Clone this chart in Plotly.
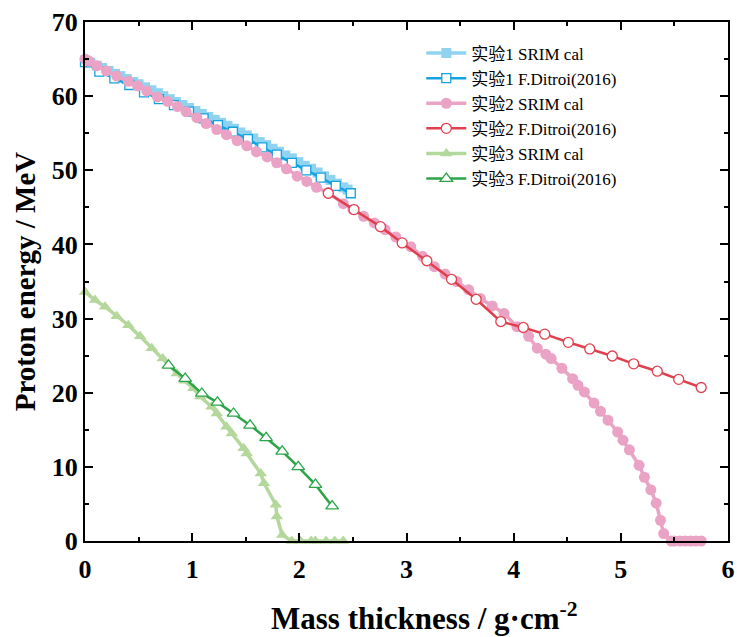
import plotly.graph_objects as go

# 实验1 SRIM cal
s1_x = [0, 0.05, 0.11, 0.16, 0.22, 0.28, 0.33, 0.39, 0.45, 0.5, 0.56, 0.62, 0.68, 0.73, 0.79, 0.85,
        0.91, 0.97, 1.03, 1.09, 1.15, 1.21, 1.27, 1.33, 1.39, 1.45, 1.51, 1.57, 1.63, 1.69, 1.75,
        1.81, 1.87, 1.93, 1.99, 2.05, 2.11, 2.17, 2.23, 2.29, 2.35, 2.41, 2.45]
s1_y = [64.8, 64.5, 64.1, 63.8, 63.4, 63.0, 62.7, 62.3, 61.9, 61.6, 61.2, 60.8, 60.4, 60.0, 59.6, 59.2,
        58.8, 58.4, 58.0, 57.6, 57.2, 56.8, 56.4, 56.0, 55.6, 55.1, 54.7, 54.3, 53.8, 53.4, 52.9,
        52.5, 52.0, 51.6, 51.1, 50.6, 50.2, 49.7, 49.2, 48.7, 48.2, 47.7, 47.4]
# 实验1 F.Ditroi(2016)
d1_x = [0, 0.134, 0.274, 0.414, 0.551, 0.69, 0.83, 0.97, 1.106, 1.24, 1.38, 1.52, 1.654, 1.79,
        1.93, 2.065, 2.20, 2.34, 2.48]
d1_y = [64.6, 63.3, 62.4, 61.5, 60.5, 59.6, 58.8, 57.9, 57.0, 56.1, 55.2, 54.2, 53.1, 52.1,
        51.0, 50.0, 49.0, 47.9, 46.9]
# 实验2 SRIM cal
s2_x = [0, 0.04, 0.11, 0.2, 0.296, 0.405, 0.49, 0.576, 0.676, 0.77, 0.863, 0.944, 1.044, 1.13, 1.23,
        1.32, 1.42, 1.51, 1.60, 1.70, 1.79, 1.88, 1.98, 2.07, 2.16, 2.27, 2.41, 2.5, 2.6, 2.7, 2.8,
        2.9, 3.04, 3.15, 3.26, 3.36, 3.47, 3.58, 3.69, 3.8, 3.91, 4.03, 4.14, 4.22, 4.3, 4.35, 4.45,
        4.55, 4.6, 4.66, 4.75, 4.81, 4.88, 4.97, 5.02, 5.08, 5.17, 5.22, 5.28, 5.33, 5.37, 5.40,
        5.47, 5.5, 5.55, 5.6, 5.65, 5.7, 5.75]
s2_y = [65.0, 64.7, 64.1, 63.4, 62.7, 62.0, 61.4, 60.7, 59.9, 59.3, 58.6, 57.9, 57.1, 56.3, 55.5,
        54.8, 54.0, 53.3, 52.5, 51.8, 51.0, 50.2, 49.2, 48.5, 47.7, 47.0, 45.5, 44.7, 43.8, 42.9, 42.0,
        41.0, 39.7, 38.4, 37.0, 36.0, 35.0, 33.9, 32.7, 31.7, 30.7, 28.9, 27.6, 26.0, 25.2, 24.6, 23.3,
        21.9, 21.0, 20.1, 18.6, 17.5, 16.3, 14.7, 13.6, 12.3, 10.2, 8.6, 6.9, 5.1, 2.8, 1.0,
        0, 0, 0, 0, 0, 0, 0]
# 实验2 F.Ditroi(2016)
d2_x = [2.27, 2.51, 2.757, 2.96, 3.19, 3.42, 3.65, 3.88, 4.09, 4.29, 4.51, 4.71, 4.92, 5.12,
        5.34, 5.54, 5.75]
d2_y = [46.9, 44.7, 42.4, 40.2, 37.8, 35.3, 32.6, 29.6, 28.8, 27.9, 26.8, 25.9, 24.95, 23.9,
        22.9, 21.8, 20.7]
# 实验3 SRIM cal
s3_x = [0, 0.093, 0.187, 0.296, 0.405, 0.514, 0.623, 0.726, 0.857, 0.93, 1.01, 1.075, 1.18, 1.23,
        1.32, 1.37, 1.48, 1.51, 1.64, 1.67, 1.78, 1.79, 1.84, 1.93, 2.01, 2.11, 2.15, 2.25, 2.33, 2.41]
s3_y = [33.6, 32.5, 31.6, 30.3, 29.1, 27.6, 26.0, 24.6, 22.6, 21.6, 20.6, 19.5, 18.1, 17.2,
        15.4, 14.5, 12.5, 11.8, 9.1, 7.8, 4.9, 3.3, 0.8, 0, 0, 0, 0, 0, 0, 0]
# 实验3 F.Ditroi(2016)
d3_x = [0.779, 0.935, 1.09, 1.236, 1.386, 1.54, 1.69, 1.84, 1.99, 2.15, 2.306]
d3_y = [23.7, 21.9, 19.9, 18.7, 17.2, 15.6, 13.9, 12.1, 10.0, 7.6, 4.7]

names = ["实验1 SRIM cal", "实验1 F.Ditroi(2016)", "实验2 SRIM cal",
         "实验2 F.Ditroi(2016)", "实验3 SRIM cal", "实验3 F.Ditroi(2016)"]
x_title = "<b>Mass thickness / g·cm<sup>-2</sup></b>"
y_title = "<b>Proton energy / MeV</b>"

fig = go.Figure()
series = [
    (s1_x, s1_y, "#8fd3f1", "square", False, 3.5, 10),
    (d1_x, d1_y, "#15a2e0", "square", True, 2.5, 9),
    (s2_x, s2_y, "#eaa3c4", "circle", False, 3.5, 11),
    (d2_x, d2_y, "#e0404e", "circle", True, 2.5, 10),
    (s3_x, s3_y, "#b4d79c", "triangle-up", False, 3.5, 11),
    (d3_x, d3_y, "#2ba548", "triangle-up", True, 2.5, 11),
]
for (x, y, c, sym, hollow, lw, ms), nm in zip(series, names):
    fig.add_trace(go.Scatter(
        x=x, y=y, name=nm, mode="lines+markers", cliponaxis=False,
        line=dict(color=c, width=lw),
        marker=dict(symbol=sym, size=ms, color=("white" if hollow else c),
                    line=dict(color=c, width=(1.3 if hollow else 0))),
    ))

font_fam = "Liberation Serif, Times New Roman, Noto Sans CJK SC, serif"
axis_common = dict(
    showline=True, linecolor="black", linewidth=2, mirror="allticks",
    ticks="inside", ticklen=8, tickwidth=2, tickcolor="black",
    showgrid=False, zeroline=False, automargin=False,
    tickfont=dict(family=font_fam, size=26, color="black", weight="bold"),
)
fig.update_xaxes(range=[0, 6], dtick=1, tick0=0, ticklabelstandoff=4,
                 minor=dict(ticks="inside", ticklen=4, tickwidth=1.5, dtick=0.5, tickcolor="black"),
                 **axis_common)
fig.update_yaxes(range=[0, 70], dtick=10, tick0=0,
                 minor=dict(ticks="inside", ticklen=4, tickwidth=1.5, dtick=5, tickcolor="black"),
                 title=dict(text=y_title,
                            font=dict(family=font_fam, size=29, color="black"), standoff=8),
                 **axis_common)
fig.add_annotation(text=x_title, xref="paper", yref="paper", x=0.528, y=-0.145,
                   xanchor="center", yanchor="middle", showarrow=False,
                   font=dict(family=font_fam, size=31, color="black"))
fig.update_layout(
    width=737, height=637,
    margin=dict(l=85, r=9, t=22, b=96),
    plot_bgcolor="white", paper_bgcolor="white",
    legend=dict(x=0.523, y=0.974, xanchor="left", yanchor="top",
                font=dict(family=font_fam, size=17, color="black"),
                bgcolor="rgba(0,0,0,0)", tracegroupgap=0, itemwidth=40),
    showlegend=True,
)
fig.write_html("out.html")
